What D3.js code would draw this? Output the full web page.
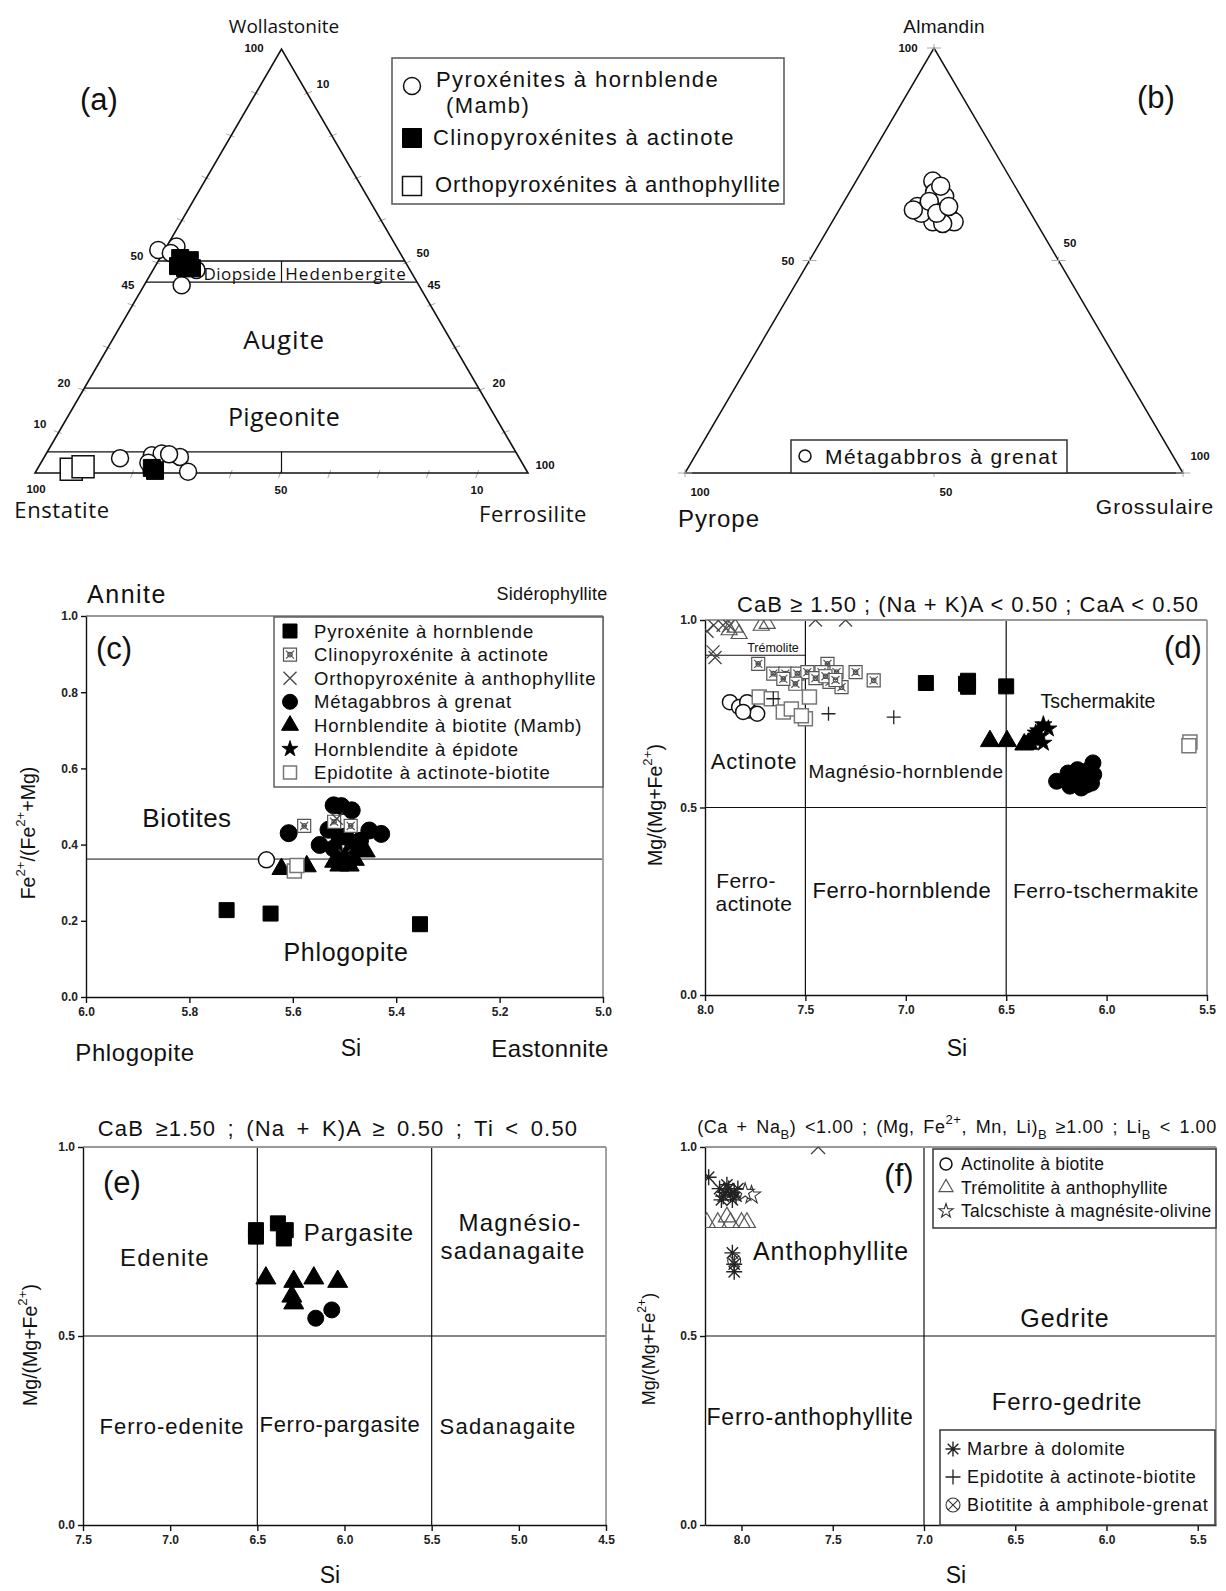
<!DOCTYPE html>
<html><head><meta charset="utf-8">
<script src="https://cdn.jsdelivr.net/npm/d3@7"></script>
<style>
body{margin:0;background:#fff;}
svg{display:block;}
text{font-family:"Liberation Sans",Arial,Helvetica,sans-serif;fill:#111;}
.my{font-family:"Open Sans","Liberation Sans",sans-serif;}
.tick text{font-family:"Liberation Sans",Arial,sans-serif;font-size:12px;font-weight:bold;fill:#222;}
.tick line,.domain{stroke:#111;}
</style></head><body>
<script>
// ================= DATA =================
// Panel (a) : pyroxene quadrilateral, points as [Wo, Fs] in % (En = 100 - Wo - Fs)
const aPyroxHornblende = [[52.6,-1.3],[53.4,2.0],[51.9,1.6],[44.3,7.6],[47.9,8.8],[3.5,15.5],[4.2,21.6],[4.6,23.4],[3.8,27.5],[0.7,23.3],[2.4,21.8],[0.3,30.9],[4.4,25.0]];
const aClinoActinote = [[50.7,4.1],[50.2,6.3],[48.3,6.3],[48.8,4.6],[48.3,7.7],[0.5,24.1],[1.2,23.1]];
const aOrthoAnthophyllite = [[0.9,6.9],[1.5,9.0]];
const aWoLines = [50,45,20,5];
const aEdgeTicks = [10,20,30,40,50,60,70,80,90];
// Panel (b) : garnet, points as [Almandin, Grossulaire] in %
const bMetagabbros = [[68.7,15.4],[66.0,17.1],[62.7,15.3],[61.9,17.2],[62.7,20.0],[60.3,22.8],[59.1,24.5],[59.1,20.2],[61.1,16.9],[65.1,19.6],[63.9,17.1],[58.7,22.4],[61.1,20.0],[61.9,14.9],[62.7,21.6],[67.5,17.6]];
// Panel (c) : biotites  [Si, Fe2+/(Fe2+ + Mg)]
const cPyroxHornblende = [[5.728,0.228],[5.643,0.219],[5.354,0.191]];
const cClinoActinote = [[5.578,0.449],[5.52,0.46],[5.488,0.449]];
const cOrthoAnthophyllite = [[5.515,0.468],[5.50,0.372]];
const cMetagabbros = [[5.608,0.43],[5.521,0.503],[5.506,0.501],[5.486,0.49],[5.452,0.437],[5.429,0.428],[5.548,0.399],[5.531,0.439],[5.498,0.421],[5.521,0.39],[5.483,0.395],[5.51,0.42],[5.47,0.41]];
const cHblBiotite = [[5.622,0.336],[5.573,0.343],[5.51,0.345],[5.49,0.345],[5.459,0.382],[5.50,0.365],[5.52,0.355],[5.48,0.36]];
const cHblEpidote = [[5.515,0.372],[5.50,0.36]];
const cEpidotite = [[5.597,0.331],[5.592,0.345]];
const cActinolite = [[5.651,0.36]];
const cLimit = 0.362;
const cXTicks = [6.0,5.8,5.6,5.4,5.2,5.0];
const cYTicks = [0,0.2,0.4,0.6,0.8,1.0];
// Panel (d) : calcic amphiboles [Si, Mg/(Mg+Fe2+)]
const dOrthoAnthophyllite = [[7.957,0.986],[7.91,0.986],[7.96,0.915],[7.95,0.90],[7.99,0.97],[7.88,0.985],[7.45,1.0],[7.30,1.0]];
const dTremolitite = [[7.88,0.973],[7.83,0.963],[7.72,0.985],[7.69,0.99],[7.85,0.98]];
const dClinoActinote = [[7.735,0.883],[7.66,0.857],[7.60,0.857],[7.54,0.857],[7.49,0.861],[7.39,0.883],[7.42,0.861],[7.345,0.861],[7.38,0.835],[7.32,0.821],[7.25,0.861],[7.16,0.839],[7.55,0.83],[7.61,0.843],[7.45,0.845],[7.40,0.85],[7.35,0.84]];
const dActinolite = [[7.876,0.781],[7.83,0.768],[7.78,0.759],[7.74,0.75],[7.79,0.781],[7.81,0.755]];
const dEpidotite = [[7.73,0.795],[7.67,0.79],[7.61,0.755],[7.57,0.763],[7.50,0.737],[7.48,0.795],[7.52,0.745],[5.585,0.675],[5.59,0.665]];
const dEpidotiteBiotite = [[7.66,0.79],[7.385,0.75],[7.06,0.741]];
const dPyroxHornblende = [[6.90,0.832],[6.69,0.838],[6.69,0.822],[6.70,0.83],[6.50,0.823]];
const dHblBiotite = [[6.581,0.677],[6.496,0.677],[6.41,0.668],[6.37,0.681],[6.39,0.67]];
const dHblEpidote = [[6.315,0.721],[6.353,0.699],[6.315,0.672],[6.33,0.69],[6.29,0.71],[6.34,0.705]];
const dMetagabbros = [[6.249,0.57],[6.192,0.592],[6.145,0.601],[6.068,0.619],[6.075,0.565],[6.126,0.552],[6.183,0.557],[6.064,0.588],[6.12,0.579],[6.16,0.575],[6.10,0.56],[6.09,0.60]];
const dXTicks = [8.0,7.5,7.0,6.5,6.0,5.5];
const abYTicks = [0,0.5,1.0];
// Panel (e) : (Na+K)A >= 0.5
const ePyroxHornblende = [[6.508,0.780],[6.508,0.763],[6.382,0.798],[6.337,0.780],[6.348,0.758]];
const eHblBiotite = [[6.451,0.653],[6.291,0.644],[6.176,0.653],[6.039,0.644],[6.302,0.605],[6.291,0.587]];
const eMetagabbros = [[6.165,0.547],[6.073,0.569]];
const eXTicks = [7.5,7.0,6.5,6.0,5.5,5.0,4.5];
// Panel (f) : Mg-Fe-Mn-Li amphiboles
const fMarbre = [[8.18,0.92],[8.12,0.89],[8.09,0.88],[8.07,0.89],[8.04,0.88],[8.10,0.87],[8.06,0.875],[8.02,0.89],[8.08,0.90],[8.05,0.86],[8.11,0.86],[8.03,0.87],[8.05,0.72],[8.04,0.69],[8.04,0.67]];
const fTalcschiste = [[7.945,0.873],[7.98,0.88]];
const fTremolitite = [[8.19,0.80],[8.13,0.80],[8.06,0.80],[8.00,0.80],[8.08,0.815],[7.97,0.80]];
const fBiotitite = [[8.04,0.70]];
const fOrtho = [[7.58,1.0]];
const fXTicks = [8.0,7.5,7.0,6.5,6.0,5.5];

// ================= HELPERS =================
const svg = d3.select('body').append('svg').attr('width',1226).attr('height',1591);
const symX = {draw(c,s){const r=Math.sqrt(s)/2;c.moveTo(-r,-r);c.lineTo(r,r);c.moveTo(r,-r);c.lineTo(-r,r);}};
const symPlus = {draw(c,s){const r=Math.sqrt(s)/2;c.moveTo(-r,0);c.lineTo(r,0);c.moveTo(0,-r);c.lineTo(0,r);}};
const symAst = {draw(c,s){const r=Math.sqrt(s)/2;for(let k=0;k<4;k++){const a=k*Math.PI/4;c.moveTo(-r*Math.cos(a),-r*Math.sin(a));c.lineTo(r*Math.cos(a),r*Math.sin(a));}}};
const symSqX = {draw(c,s){const r=Math.sqrt(s)/2;c.rect(-r,-r,2*r,2*r);const q=r*0.62;c.moveTo(-q,-q);c.lineTo(q,q);c.moveTo(q,-q);c.lineTo(-q,q);c.moveTo(q*0.55,0);c.arc(0,0,q*0.55,0,2*Math.PI);}};
const symCircX = {draw(c,s){const r=Math.sqrt(s)/2;c.moveTo(r,0);c.arc(0,0,r,0,2*Math.PI);const q=r*0.7;c.moveTo(-q,-q);c.lineTo(q,q);c.moveTo(q,-q);c.lineTo(-q,q);}};
const ST = {
  circleOpen:{t:d3.symbolCircle,fill:'#fff',stroke:'#111',sw:1.5},
  circleFill:{t:d3.symbolCircle,fill:'#000',stroke:'#000',sw:1},
  squareFill:{t:d3.symbolSquare,fill:'#000',stroke:'#000',sw:1},
  squareOpen:{t:d3.symbolSquare,fill:'#fff',stroke:'#111',sw:1.5},
  squareGrey:{t:d3.symbolSquare,fill:'#fff',stroke:'#777',sw:1.5},
  squareX:{t:symSqX,fill:'#fff',stroke:'#555',sw:1.2},
  triFill:{t:d3.symbolTriangle,fill:'#000',stroke:'#000',sw:1},
  triOpen:{t:d3.symbolTriangle,fill:'none',stroke:'#555',sw:1.2},
  starFill:{t:d3.symbolStar,fill:'#000',stroke:'#000',sw:0.8},
  starOpen:{t:d3.symbolStar,fill:'#fff',stroke:'#333',sw:1.1},
  xMark:{t:symX,fill:'none',stroke:'#444',sw:1.3},
  plus:{t:symPlus,fill:'none',stroke:'#222',sw:1.3},
  ast:{t:symAst,fill:'none',stroke:'#222',sw:1.4},
  circX:{t:symCircX,fill:'none',stroke:'#333',sw:1.1}
};
function area(t,d){
  if(t===d3.symbolCircle) return Math.PI*d*d/4;
  if(t===d3.symbolTriangle) return d*d*Math.sqrt(3)/4;
  if(t===d3.symbolStar) return d*d*0.2807;
  return d*d;
}
function pts(g,data,xs,ys,key,d){
  const s=ST[key];
  g.append('g').selectAll('path').data(data).join('path')
    .attr('transform',p=>`translate(${xs(p[0])},${ys(p[1])})`)
    .attr('d',d3.symbol(s.t,area(s.t,d)))
    .attr('fill',s.fill).attr('stroke',s.stroke).attr('stroke-width',s.sw);
}
function mark(g,x,y,key,d){
  const s=ST[key];
  g.append('path').attr('transform',`translate(${x},${y})`).attr('d',d3.symbol(s.t,area(s.t,d))())
   .attr('fill',s.fill).attr('stroke',s.stroke).attr('stroke-width',s.sw);
}
function txt(g,x,y,s,o={}){
  const t=g.append('text').attr('x',x).attr('y',y).text(s)
    .attr('font-size',o.size||18).attr('text-anchor',o.anchor||'middle')
    .attr('dominant-baseline','central');
  if(o.cls) t.attr('class',o.cls);
  if(o.weight) t.attr('font-weight',o.weight);
  if(o.ls!==undefined) t.attr('letter-spacing',o.ls);
  if(o.ws!==undefined) t.attr('word-spacing',o.ws);
  return t;
}
function ylab(g,x,y,parts,size,ls){
  const t=g.append('text').attr('transform',`translate(${x},${y}) rotate(-90)`)
    .attr('text-anchor','middle').attr('dominant-baseline','central').attr('font-size',size).attr('letter-spacing',ls||0);
  parts.forEach(p=>{const ts=t.append('tspan').text(p[0]); if(p[1]) ts.attr('baseline-shift','super').attr('font-size',size*0.68);});
  return t;
}
function line(g,x1,y1,x2,y2,c,w){g.append('line').attr('x1',x1).attr('y1',y1).attr('x2',x2).attr('y2',y2).attr('stroke',c||'#111').attr('stroke-width',w||1.3);}
function frame(g,xs,ys,xt,yt){
  const [x0,x1]=xs.range(), [y0,y1]=ys.range();
  line(g,x0,y1,x1,y1,'#999',1.8); line(g,x1,y1,x1,y0,'#999',1.8);
  g.append('g').attr('transform',`translate(0,${y0})`)
    .call(d3.axisBottom(xs).tickValues(xt).tickFormat(d3.format('.1f')).tickSize(6).tickSizeOuter(0).tickPadding(4))
    .call(a=>a.selectAll('.domain,.tick line').attr('stroke-width',1.4));
  g.append('g').attr('transform',`translate(${x0},0)`)
    .call(d3.axisLeft(ys).tickValues(yt).tickFormat(d3.format('.1f')).tickSize(5).tickSizeOuter(0).tickPadding(3))
    .call(a=>a.selectAll('.domain,.tick line').attr('stroke-width',1.4));
}
function clip(id,xs,ys){
  const [x0,x1]=xs.range(), [y0,y1]=ys.range();
  svg.append('clipPath').attr('id',id).append('rect').attr('x',x0).attr('y',y1).attr('width',x1-x0).attr('height',y0-y1);
  return svg.append('g').attr('clip-path',`url(#${id})`);
}

// ================= PANEL (a) =================
const gA = svg.append('g');
const xA = d3.scaleLinear().domain([0,100]).range([35,528]);
const yA = d3.scaleLinear().domain([0,100]).range([473,49]);
const terA = d => [d[1]+d[0]/2, d[0]];
aEdgeTicks.forEach(t=>{
  const L=[[xA(t/2),yA(t)],[xA(100-t/2),yA(t)],[xA(t),yA(0)]];
  line(gA,L[0][0]-6,L[0][1],L[0][0]+2,L[0][1]+3,'#aaa',1);
  line(gA,L[1][0]+6,L[1][1],L[1][0]-2,L[1][1]+3,'#aaa',1);
  line(gA,L[2][0]-3,L[2][1]+5,L[2][0],L[2][1]-3,'#aaa',1);
});
gA.append('path').attr('d',d3.line()([[xA(0),yA(0)],[xA(100),yA(0)],[xA(50),yA(100)]])+'Z')
  .attr('fill','none').attr('stroke','#111').attr('stroke-width',1.6);
aWoLines.forEach(w=>line(gA,xA(w/2),yA(w),xA(100-w/2),yA(w),'#111',1.3));
line(gA,xA(50),yA(45),xA(50),yA(50),'#111',1.2);
line(gA,xA(50),yA(0),xA(50),yA(5),'#111',1.2);
txt(gA,240,273,'Diopside',{size:17,cls:'my',ls:0.4});
txt(gA,346,273,'Hedenbergite',{size:17,cls:'my',ls:1.1});
txt(gA,284,339,'Augite',{size:26,cls:'my',ls:0.8});
txt(gA,284,416,'Pigeonite',{size:25,cls:'my',ls:0.4});
txt(gA,284,26,'Wollastonite',{size:19,cls:'my'});
txt(gA,62,509,'Enstatite',{size:22,cls:'my',ls:0.6});
txt(gA,533,513,'Ferrosilite',{size:22,cls:'my',ls:0.5});
txt(gA,99,99,'(a)',{size:31});
[['100',254,48],['10',323,84],['50',137,256],['50',423,253],['45',128,285],['45',434,285],['20',64,383],['20',499,383],['10',40,424],['100',545,465],['100',36,489],['50',281,490],['10',477,490]]
  .forEach(l=>txt(gA,l[1],l[2],l[0],{size:11.5,weight:'bold'}));
pts(gA,aOrthoAnthophyllite.map(terA),xA,yA,'squareOpen',22);
pts(gA,aPyroxHornblende.map(terA),xA,yA,'circleOpen',17);
pts(gA,aClinoActinote.map(terA),xA,yA,'squareFill',17);
gA.append('rect').attr('x',392).attr('y',58).attr('width',392).attr('height',146).attr('fill','#fff').attr('stroke','#555').attr('stroke-width',1.5);
mark(gA,412,86,'circleOpen',17); mark(gA,412,138,'squareFill',19); mark(gA,412,186,'squareOpen',19);
txt(gA,436,79,'Pyroxénites à hornblende',{size:22,anchor:'start',ls:1.4});
txt(gA,446,105,'(Mamb)',{size:22,anchor:'start',ls:1.4});
txt(gA,433,137,'Clinopyroxénites à actinote',{size:22,anchor:'start',ls:1.4});
txt(gA,435,184,'Orthopyroxénites à anthophyllite',{size:22,anchor:'start',ls:0.95});

// ================= PANEL (b) =================
const gB = svg.append('g');
const xB = d3.scaleLinear().domain([0,100]).range([685,1183]);
const yB = d3.scaleLinear().domain([0,100]).range([473,48]);
const terB = d => [d[1]+d[0]/2, d[0]];
gB.append('path').attr('d',d3.line()([[xB(0),yB(0)],[xB(100),yB(0)],[xB(50),yB(100)]])+'Z')
  .attr('fill','none').attr('stroke','#111').attr('stroke-width',1.5);
[[xB(50),yB(100)],[xB(25),yB(50)],[xB(75),yB(50)],[xB(50),yB(0)],[xB(0),yB(0)],[xB(100),yB(0)]].forEach(p=>{
  line(gB,p[0]-7,p[1],p[0]+7,p[1],'#aaa',1); line(gB,p[0],p[1]-4,p[0],p[1]+4,'#aaa',1);
});
[['100',908,48],['50',788,261],['50',1070,243],['100',1200,456],['100',700,492],['50',946,492]]
  .forEach(l=>txt(gB,l[1],l[2],l[0],{size:11.5,weight:'bold'}));
txt(gB,944,26,'Almandin',{size:19,ls:0.3});
txt(gB,1156,97,'(b)',{size:31});
txt(gB,719,518,'Pyrope',{size:24,ls:1});
txt(gB,1155,506,'Grossulaire',{size:21,ls:1});
pts(gB,bMetagabbros.map(terB),xB,yB,'circleOpen',18);
gB.append('rect').attr('x',791).attr('y',440).attr('width',276).attr('height',33).attr('fill','#fff').attr('stroke','#333').attr('stroke-width',1.5);
mark(gB,805,456,'circleOpen',12);
txt(gB,825,456,'Métagabbros à grenat',{size:21,anchor:'start',ls:1.4});

// ================= PANEL (c) =================
const gC = svg.append('g');
const xC = d3.scaleLinear().domain([6.0,5.0]).range([86,603]);
const yC = d3.scaleLinear().domain([0,1]).range([997,616]);
line(gC,xC(6.0),yC(cLimit),xC(5.0),yC(cLimit),'#777',1.8);
frame(gC,xC,yC,cXTicks,cYTicks);
pts(gC,cPyroxHornblende,xC,yC,'squareFill',15);
pts(gC,cMetagabbros,xC,yC,'circleFill',17);
pts(gC,cClinoActinote,xC,yC,'squareX',13);
pts(gC,cOrthoAnthophyllite,xC,yC,'xMark',12);
pts(gC,cHblBiotite,xC,yC,'triFill',19);
pts(gC,cHblEpidote,xC,yC,'starFill',18);
pts(gC,cEpidotite,xC,yC,'squareGrey',14);
pts(gC,cActinolite,xC,yC,'circleOpen',16);
gC.append('rect').attr('x',274).attr('y',617).attr('width',329).attr('height',170).attr('fill','#fff').attr('stroke','#555').attr('stroke-width',1.4);
const cLeg=[['squareFill','Pyroxénite à hornblende',14],['squareX','Clinopyroxénite à actinote',13],['xMark','Orthopyroxénite à anthophyllite',13],['circleFill','Métagabbros à grenat',15],['triFill','Hornblendite à biotite (Mamb)',17],['starFill','Hornblendite à épidote',17],['squareGrey','Epidotite à actinote-biotite',13]];
cLeg.forEach((l,i)=>{const y=631+i*23.6; mark(gC,290,y,l[0],l[2]); txt(gC,314,y,l[1],{size:18.5,anchor:'start',ls:0.85});});
txt(gC,127,594,'Annite',{size:25,ls:1.5});
txt(gC,552,594,'Sidérophyllite',{size:18,ls:0.2});
txt(gC,114,648,'(c)',{size:31});
txt(gC,187,818,'Biotites',{size:26,ls:0.5});
txt(gC,346,952,'Phlogopite',{size:25,ls:0.7});
txt(gC,135,1052,'Phlogopite',{size:24,ls:0.6});
txt(gC,351,1048,'Si',{size:23});
txt(gC,550,1048,'Eastonnite',{size:24,ls:0.4});
ylab(gC,28,833,[['Fe'],['2+',1],['/(Fe'],['2+',1],['+Mg)']],19.5);

// ================= PANEL (d) =================
const gD = svg.append('g');
const xD = d3.scaleLinear().domain([8.0,5.5]).range([705,1207]);
const yD = d3.scaleLinear().domain([0,1]).range([995,620]);
line(gD,xD(7.5),yD(0),xD(7.5),yD(1),'#111',1.2);
line(gD,xD(6.5),yD(0),xD(6.5),yD(1),'#111',1.2);
line(gD,xD(8.0),yD(0.5),xD(5.5),yD(0.5),'#111',1.2);
line(gD,xD(8.0),yD(0.906),xD(7.5),yD(0.906),'#111',1.2);
frame(gD,xD,yD,dXTicks,abYTicks);
txt(gD,773,648,'Trémolite',{size:12.5});
const gDp = clip('clipD',xD,yD);
pts(gDp,dOrthoAnthophyllite,xD,yD,'xMark',13);
pts(gDp,dTremolitite,xD,yD,'triOpen',16);
pts(gDp,dClinoActinote,xD,yD,'squareX',13);
pts(gDp,dActinolite,xD,yD,'circleOpen',15);
pts(gDp,dEpidotite,xD,yD,'squareGrey',14);
pts(gDp,dEpidotiteBiotite,xD,yD,'plus',14);
pts(gDp,dPyroxHornblende,xD,yD,'squareFill',15);
pts(gDp,dHblBiotite,xD,yD,'triFill',19);
pts(gDp,dHblEpidote,xD,yD,'starFill',18);
pts(gDp,dMetagabbros,xD,yD,'circleFill',16);
txt(gD,968,604,'CaB ≥ 1.50 ; (Na + K)A < 0.50 ; CaA < 0.50',{size:22,ls:1.0});
txt(gD,1183,647,'(d)',{size:31});
txt(gD,754,761,'Actinote',{size:22,ls:0.9});
txt(gD,906,771,'Magnésio-hornblende',{size:19,ls:0.6});
txt(gD,1098,701,'Tschermakite',{size:19.5});
txt(gD,746,880,'Ferro-',{size:21,ls:0.4});
txt(gD,754,903,'actinote',{size:21,ls:0.4});
txt(gD,902,890,'Ferro-hornblende',{size:22,ls:0.55});
txt(gD,1106,890,'Ferro-tschermakite',{size:21,ls:0.55});
txt(gD,957,1048,'Si',{size:23});
ylab(gD,655,805,[['Mg/(Mg+Fe'],['2+',1],[')']],19.5);

// ================= PANEL (e) =================
const gE = svg.append('g');
const xE = d3.scaleLinear().domain([7.5,4.5]).range([83,606]);
const yE = d3.scaleLinear().domain([0,1]).range([1525,1147]);
line(gE,xE(6.5),yE(0),xE(6.5),yE(1),'#111',1.2);
line(gE,xE(5.5),yE(0),xE(5.5),yE(1),'#111',1.2);
line(gE,xE(7.5),yE(0.5),xE(4.5),yE(0.5),'#111',1.2);
frame(gE,xE,yE,eXTicks,abYTicks);
pts(gE,ePyroxHornblende,xE,yE,'squareFill',15);
pts(gE,eHblBiotite,xE,yE,'triFill',20);
pts(gE,eMetagabbros,xE,yE,'circleFill',16);
txt(gE,338,1128,'CaB ≥1.50 ; (Na + K)A ≥ 0.50 ; Ti < 0.50',{size:22,ls:1.2,ws:4});
txt(gE,122,1182,'(e)',{size:31});
txt(gE,165,1257,'Edenite',{size:24,ls:1.2});
txt(gE,359,1232,'Pargasite',{size:24,ls:1});
txt(gE,520,1222,'Magnésio-',{size:24,ls:1.2});
txt(gE,513,1250,'sadanagaite',{size:24,ls:1.3});
txt(gE,172,1426,'Ferro-edenite',{size:22,ls:1});
txt(gE,340,1424,'Ferro-pargasite',{size:22,ls:0.7});
txt(gE,508,1426,'Sadanagaite',{size:22,ls:1.2});
txt(gE,330,1575,'Si',{size:23});
ylab(gE,30,1345,[['Mg/(Mg+Fe'],['2+',1],[')']],19.5);

// ================= PANEL (f) =================
const gF = svg.append('g');
const xF = d3.scaleLinear().domain([8.2,5.4]).range([705,1216]);
const yF = d3.scaleLinear().domain([0,1]).range([1525,1147]);
line(gF,xF(7.0),yF(0),xF(7.0),yF(1),'#111',1.2);
line(gF,xF(8.2),yF(0.5),xF(5.4),yF(0.5),'#111',1.2);
frame(gF,xF,yF,fXTicks,abYTicks);
const gFp = clip('clipF',xF,yF);
pts(gFp,fTremolitite,xF,yF,'triOpen',17);
pts(gFp,fMarbre,xF,yF,'ast',16);
pts(gFp,fBiotitite,xF,yF,'circX',13);
pts(gFp,fTalcschiste,xF,yF,'starOpen',19);
pts(gFp,fOrtho,xF,yF,'xMark',14);
const tF=gF.append('text').attr('x',957).attr('y',1127).attr('text-anchor','middle').attr('dominant-baseline','central').attr('font-size',18).attr('letter-spacing',0.6).attr('word-spacing',3);
[['(Ca + Na'],['B','sub'],[') <1.00 ; (Mg, Fe'],['2+','super'],[', Mn, Li)'],['B','sub'],[' ≥1.00 ; Li'],['B','sub'],[' < 1.00']].forEach(p=>{
  const ts=tF.append('tspan').text(p[0]); if(p[1]) ts.attr('baseline-shift',p[1]).attr('font-size',13);
});
txt(gF,899,1175,'(f)',{size:31});
gF.append('rect').attr('x',933).attr('y',1149).attr('width',283).attr('height',79).attr('fill','#fff').attr('stroke','#444').attr('stroke-width',1.6);
[['circleOpen','Actinolite à biotite',12],['triOpen','Trémolitite à anthophyllite',14],['starOpen','Talcschiste à magnésite-olivine',15]].forEach((l,i)=>{
  const y=1164+i*23.5; mark(gF,946,y,l[0],l[2]); txt(gF,961,y,l[1],{size:17.5,anchor:'start',ls:0.3});
});
gF.append('rect').attr('x',940).attr('y',1430).attr('width',275).attr('height',95).attr('fill','#fff').attr('stroke','#444').attr('stroke-width',1.6);
[['ast','Marbre à dolomite',15],['plus','Epidotite à actinote-biotite',15],['circX','Biotitite à amphibole-grenat',14]].forEach((l,i)=>{
  const y=1449+i*28; mark(gF,953,y,l[0],l[2]); txt(gF,967,y,l[1],{size:18,anchor:'start',ls:0.8});
});
txt(gF,831,1251,'Anthophyllite',{size:25,ls:1});
txt(gF,1065,1318,'Gedrite',{size:25,ls:1.1});
txt(gF,1067,1401,'Ferro-gedrite',{size:24,ls:0.9});
txt(gF,810,1417,'Ferro-anthophyllite',{size:23,ls:0.8});
txt(gF,956,1575,'Si',{size:23});
ylab(gF,649,1349,[['Mg/(Mg+Fe'],['2+',1],[')']],18);
</script>
</body></html>
